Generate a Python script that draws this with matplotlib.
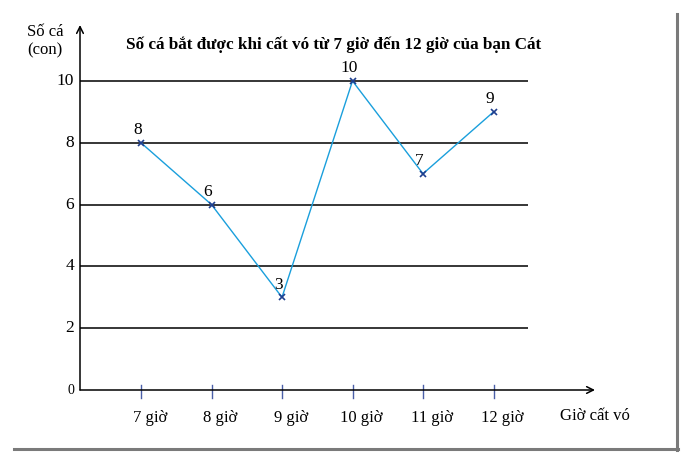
import matplotlib
matplotlib.use("Agg")
import matplotlib.pyplot as plt
from matplotlib.lines import Line2D

plt.rcParams['font.family'] = ['Liberation Serif', 'DejaVu Serif']

hours = ["7 giờ", "8 giờ", "9 giờ", "10 giờ", "11 giờ", "12 giờ"]
fish = [8, 6, 3, 10, 7, 9]
yticks = [0, 2, 4, 6, 8, 10]
title = "Số cá bắt được khi cất vó từ 7 giờ đến 12 giờ của bạn Cát"
ylabel = "Số cá\n(con)"
xlabel = "Giờ cất vó"

W, H = 687, 459
fig = plt.figure(figsize=(W / 100, H / 100), dpi=100)

# axes: pixel x 80..595, pixel y (from top) 25..390
L, R, T, B = 80, 595, 25, 390
ax = fig.add_axes([L / W, 1 - B / H, (R - L) / W, (B - T) / H])
x0, dx = 141, 70.5
ax.set_xlim((L - x0) / dx, (R - x0) / dx)
y0, dy = 390, 30.9
ax.set_ylim(0, (y0 - T) / dy)
for s in ax.spines.values():
    s.set_visible(False)
ax.set_xticks([])
ax.set_yticks([])
ax.patch.set_alpha(0)

xs = list(range(len(hours)))

# gridlines
grid_end = (528 - x0) / dx
ax.hlines(yticks[1:], ax.get_xlim()[0], grid_end, color='black', lw=1.1)

# axes with arrows
ax.annotate("", xy=(0, 1), xytext=(0, 0), xycoords='axes fraction',
            arrowprops=dict(arrowstyle='->', color='black', lw=1.1,
                            mutation_scale=12, shrinkA=0, shrinkB=0))
ax.annotate("", xy=(1, 0), xytext=(0, 0), xycoords='axes fraction',
            arrowprops=dict(arrowstyle='->', color='black', lw=1.1,
                            mutation_scale=12, shrinkA=0, shrinkB=0))

# x ticks (small blue marks)
for xi in xs:
    ax.plot([xi, xi], [5 / dy, -8 / dy], color='#4a5fa8', lw=1, clip_on=False)

# y tick labels
for yv in yticks:
    ax.text(ax.get_xlim()[0] - 6 / dx, yv, str(yv), ha='right', va='center',
            fontsize=10 if yv == 0 else 12.5, color='black',
            transform=ax.transData)

# x tick labels
for xi, lab in zip(xs, hours):
    ax.text(xi + 9 / dx, -(418 - y0) / dy, lab, ha='center', va='center',
            fontsize=12, clip_on=False)

# line
ax.plot(xs, fish, color='#1a9fdc', lw=1, clip_on=False)
ax.plot(xs, fish, ls='none', marker='x', ms=4, mew=1.2, color='#1f3f8f',
        clip_on=False)
for xi, v in zip(xs, fish):
    ax.text(xi - 0.05, v + 0.15, str(v), ha='center', va='bottom', fontsize=12.5)

# texts
fig.text(334 / W, 1 - 45 / H, title, ha='center', va='center', fontsize=12.3,
         fontweight='bold')
fig.text(27 / W, 1 - 41 / H, ylabel, ha='left', va='center', fontsize=12,
         linespacing=1.25)
fig.text(595 / W, 1 - 416 / H, xlabel, ha='center', va='center', fontsize=12)

# shadow frame
fig.add_artist(Line2D([677 / W, 677 / W], [1 - 450 / H, 1 - 14 / H],
                      color='#7a7a7a', lw=2.2, transform=fig.transFigure))
fig.add_artist(Line2D([14 / W, 678 / W], [1 - 449 / H, 1 - 449 / H],
                      color='#7a7a7a', lw=2.2, transform=fig.transFigure))

fig.savefig("out.png", dpi=100)
